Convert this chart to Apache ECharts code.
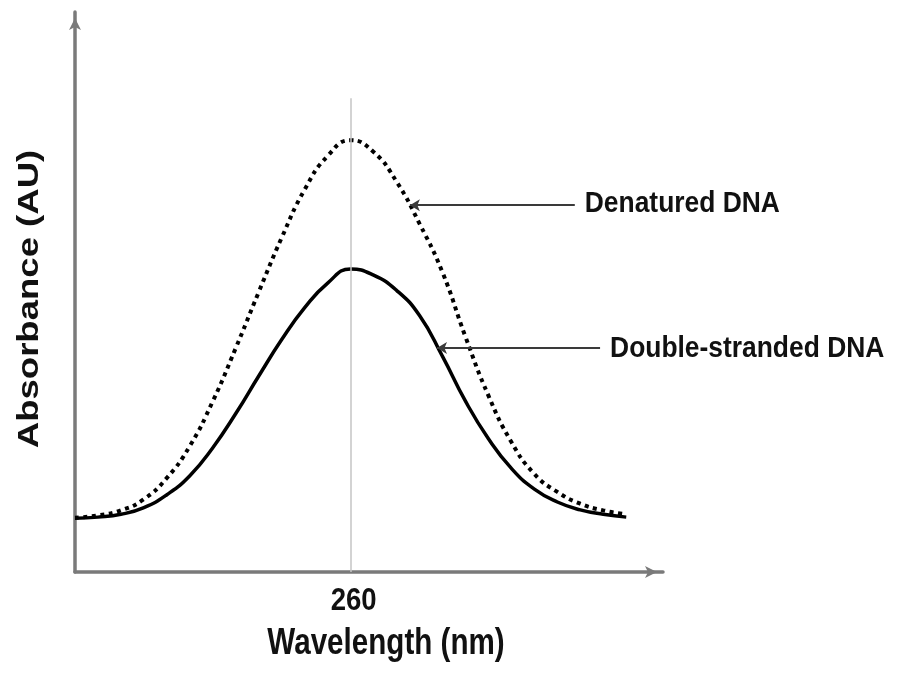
<!DOCTYPE html>
<html>
<head>
<meta charset="utf-8">
<script src="https://cdn.jsdelivr.net/npm/echarts@6/dist/echarts.min.js"></script>
<style>html,body{margin:0;padding:0;background:#fff}#c{width:900px;height:673px}</style>
</head>
<body>
<div id="c"></div>
<script>
// Wavelength positions (nm, arbitrary scale centred on 260)
const wavelengths = [200,205,210,215,220,225,230,235,240,245,250,255,260,265,270,275,280,285,290,295,300,305,310,315,320];
// Double-stranded DNA absorbance (AU, relative)
const dsDNA = [0.096,0.098,0.103,0.115,0.138,0.172,0.222,0.283,0.350,0.415,0.472,0.516,0.541,0.530,0.503,0.458,0.385,0.305,0.238,0.185,0.148,0.125,0.111,0.103,0.098];
// Denatured DNA absorbance (AU, relative)
const denaturedDNA = [0.097,0.101,0.110,0.130,0.168,0.225,0.305,0.400,0.500,0.597,0.683,0.743,0.771,0.750,0.697,0.622,0.535,0.420,0.315,0.232,0.175,0.143,0.122,0.110,0.103];
const tickLabels = ['260'];
const seriesNames = ['Denatured DNA', 'Double-stranded DNA'];
const xAxisName = 'Wavelength (nm)';
const yAxisName = 'Absorbance (AU)';
const peakWavelength = 260;
const peakLineTop = 0.846;
// annotation arrows: [from x, to x, y]
const denaturedArrow = [308.8, 272.9, 0.655];
const dsArrow = [314.3, 278.8, 0.400];

const FONT = "'Liberation Sans', Arial, sans-serif";
const chart = echarts.init(document.getElementById('c'), null, {renderer: 'canvas'});
const pair = (xs, ys) => xs.map((x, i) => [x, ys[i]]);

const arrowLine = (a) => ({
  silent: true,
  symbol: ['none', 'arrow'],
  symbolSize: [9, 10],
  label: {show: false},
  lineStyle: {color: '#3a3a3a', width: 2, type: 'solid'},
  data: [[{coord: [a[0], a[2]]}, {coord: [a[1], a[2]]}]]
});

const axisLineStyle = {show: true, symbol: ['none', 'arrow'], symbolSize: [9, 12], symbolOffset: [0, -6], lineStyle: {color: '#7a7a7a', width: 3.5}};

chart.setOption({
  animation: false,
  backgroundColor: '#fff',
  grid: {left: 75, right: 237, top: 12, bottom: 101, outerBoundsMode: 'none', containLabel: false},
  xAxis: {
    type: 'value', min: 200, max: 328, interval: 20,
    axisLine: axisLineStyle,
    axisTick: {show: false},
    splitLine: {show: false},
    axisLabel: {show: false}
  },
  yAxis: {
    type: 'value', min: 0, max: 1,
    axisLine: axisLineStyle,
    axisTick: {show: false},
    axisLabel: {show: false},
    splitLine: {show: false}
  },
  series: [
    {
      name: seriesNames[0], type: 'line', smooth: 0.5, showSymbol: false, silent: true,
      data: pair(wavelengths, denaturedDNA),
      lineStyle: {color: '#000', width: 4, type: [4, 4.5], cap: 'butt'},
      markLine: arrowLine(denaturedArrow), z: 3
    },
    {
      name: seriesNames[1], type: 'line', smooth: 0.5, showSymbol: false, silent: true,
      data: pair(wavelengths, dsDNA),
      lineStyle: {color: '#000', width: 3.5},
      markLine: arrowLine(dsArrow), z: 3
    },
    {
      name: 'peak', type: 'line', data: [], silent: true,
      markLine: {
        silent: true, symbol: ['none', 'none'], label: {show: false},
        lineStyle: {color: '#c4c4c4', width: 1.5, type: 'solid'},
        data: [[{coord: [peakWavelength, 0]}, {coord: [peakWavelength, peakLineTop]}]]
      }, z: 1
    }
  ]
});

// Text placed relative to the axes (condensed look of the original lettering)
const px = (x, y) => chart.convertToPixel({gridIndex: 0}, [x, y]);
const origin = px(200, 0);
const tickPos = tickLabels.map(t => px(Number(t), 0));
const dArrowStart = px(denaturedArrow[0], denaturedArrow[2]);
const sArrowStart = px(dsArrow[0], dsArrow[2]);
const yMid = px(200, 0.5);
const xMid = px(264, 0);

const txt = (text, x, y, size, sx, align, extra) => Object.assign({
  type: 'text', x: x, y: y, scaleX: sx, silent: true,
  style: {text: text, fontFamily: FONT, fontWeight: 'bold', fontSize: size, fill: '#111', align: align, verticalAlign: 'middle'}
}, extra || {});

const graphics = [];
tickLabels.forEach((t, i) => graphics.push(txt(t, tickPos[i][0] + 3, tickPos[i][1] + 29, 32, 0.86, 'center')));
graphics.push(txt(xAxisName, xMid[0] + 17, xMid[1] + 72, 37, 0.8, 'center'));
graphics.push(txt(yAxisName, origin[0] - 45, yMid[1] + 7, 29, 1.26, 'center', {rotation: Math.PI / 2}));
graphics.push(txt(seriesNames[0], dArrowStart[0] + 10, dArrowStart[1] - 1, 30, 0.88, 'left'));
graphics.push(txt(seriesNames[1], sArrowStart[0] + 10, sArrowStart[1] + 1, 30, 0.88, 'left'));
chart.setOption({graphic: graphics});
</script>
</body>
</html>
